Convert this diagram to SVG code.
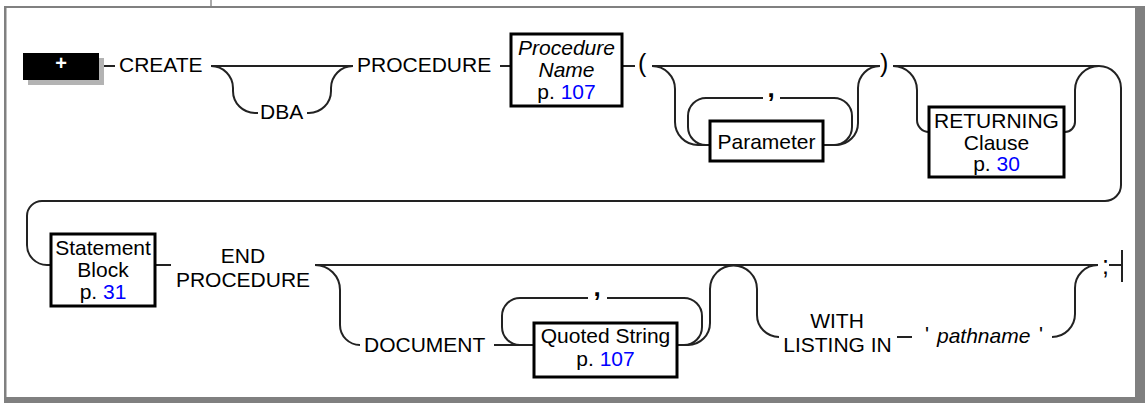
<svg xmlns="http://www.w3.org/2000/svg" width="1147" height="403" viewBox="0 0 1147 403">
<style>
text{font-family:"Liberation Sans",Arial,sans-serif;font-size:21px;fill:#000}
.c{text-anchor:middle}
.i{font-style:italic}
.lnk{fill:#0000ff}
.box{fill:#fff;stroke:#000;stroke-width:3}
.ln{fill:none;stroke:#222;stroke-width:2}
.frame{fill:#808080}
.big{font-size:25px}
.cm{font-size:26px;font-weight:bold}
</style>
<rect width="1147" height="403" fill="#fff"/>
<g id="frame">
<rect class="frame" x="4" y="6" width="1141" height="2"/>
<rect class="frame" x="4" y="6" width="2.5" height="397"/>
<rect class="frame" x="1135" y="6" width="10" height="397"/>
<rect class="frame" x="4" y="397" width="1141" height="6"/>
<path d="M211,0 V6" stroke="#555" stroke-width="1"/>
</g>
<g id="connectors" class="ln">
<path d="M104,66 H115"/>
<path d="M211,66 H353"/>
<path d="M211,66 A22,22 0 0 1 233,88 V91 A22,22 0 0 0 255,113 H258"/>
<path d="M307,113 H309 A22,22 0 0 0 331,91 V88 A22,22 0 0 1 353,66"/>
<path d="M500,66 H511"/>
<path d="M623,66 H635"/>
<path d="M652,66 H880"/>
<path d="M652,66 A23,23 0 0 1 675,89 V122 A23,23 0 0 0 698,145 H710"/>
<path d="M710,145 H706 A18,18 0 0 1 688,127 V116 A18,18 0 0 1 706,98 H763"/>
<path d="M780,98 H834 A18,18 0 0 1 852,116 V127 A18,18 0 0 1 834,145 H823"/>
<path d="M823,145 H836 A22,22 0 0 0 858,123 V88 A22,22 0 0 1 880,66"/>
<path d="M893,66 H1099"/>
<path d="M893,66 A24,24 0 0 1 917,90 V120 A12,12 0 0 0 929,132"/>
<path d="M1065,132 A10,10 0 0 0 1075,122 V90 A24,24 0 0 1 1099,66"/>
<path d="M1099,66 A22,22 0 0 1 1121,88 V185 A16,16 0 0 1 1105,201 H42 A15,15 0 0 0 27,216 V245 A20,20 0 0 0 47,265 H51"/>
<path d="M156,265 H171"/>
<path d="M315,265 H1098"/>
<path d="M315,265 A25,25 0 0 1 340,290 V325 A20,20 0 0 0 360,345"/>
<path d="M494,345 H534"/>
<path d="M534,345 H520 A18,18 0 0 1 502,327 V316 A18,18 0 0 1 520,298 H588"/>
<path d="M607,298 H684 A18,18 0 0 1 702,316 V327 A18,18 0 0 1 684,345 H678"/>
<path d="M678,345 H688 A22,22 0 0 0 710,323 V289 A23.5,23.5 0 0 1 757,289 V315 A22,22 0 0 0 779,337"/>
<path d="M897,337 H912"/>
<path d="M1052,337 A23,23 0 0 0 1075,314 V288 A23,23 0 0 1 1098,265"/>
<path d="M1109,265 H1122 M1122,250 V282"/>
</g>
<g id="start">
<rect x="28" y="58" width="76" height="27" fill="#b3b3b3"/>
<rect x="23" y="53" width="76" height="27" fill="#000"/>
<text x="61" y="70" class="c" style="fill:#fff;font-weight:bold;font-size:20px">+</text>
</g>
<g id="create"><text x="119" y="72">CREATE</text></g>
<g id="dba"><text x="260" y="119">DBA</text></g>
<g id="procedure"><text x="357" y="72">PROCEDURE</text></g>
<g id="procname">
<rect class="box" x="511" y="34" width="111" height="72"/>
<text class="c i" x="566.5" y="55">Procedure</text>
<text class="c i" x="566.5" y="77">Name</text>
<text class="c" x="566.5" y="99">p. <tspan class="lnk">107</tspan></text>
</g>
<g id="lparen"><text class="big" x="638" y="72">(</text></g>
<g id="comma1"><text class="c cm" x="771" y="97">,</text></g>
<g id="parameter">
<rect class="box" x="710" y="121" width="113" height="40"/>
<text class="c" x="766.5" y="149">Parameter</text>
</g>
<g id="rparen"><text class="big" x="880" y="72">)</text></g>
<g id="returning">
<rect class="box" x="929" y="107" width="135" height="70"/>
<text class="c" x="996.5" y="128">RETURNING</text>
<text class="c" x="996.5" y="150">Clause</text>
<text class="c" x="996.5" y="171">p. <tspan class="lnk">30</tspan></text>
</g>
<g id="stmtblock">
<rect class="box" x="51" y="234" width="104" height="72"/>
<text class="c" x="103" y="255">Statement</text>
<text class="c" x="103" y="277">Block</text>
<text class="c" x="103" y="299">p. <tspan class="lnk">31</tspan></text>
</g>
<g id="endproc">
<text class="c" x="243" y="263">END</text>
<text class="c" x="243" y="287">PROCEDURE</text>
</g>
<g id="document"><text x="364" y="352">DOCUMENT</text></g>
<g id="comma2"><text class="c cm" x="597" y="296">,</text></g>
<g id="quotedstring">
<rect class="box" x="534" y="323" width="143" height="54"/>
<text class="c" x="605.5" y="343">Quoted String</text>
<text class="c" x="605.5" y="366">p. <tspan class="lnk">107</tspan></text>
</g>
<g id="withlisting">
<text class="c" x="837" y="328">WITH</text>
<text class="c" x="837.5" y="352">LISTING IN</text>
</g>
<g id="pathname">
<text class="c" x="927" y="341">'</text>
<text class="i" x="937" y="343">pathname</text>
<text class="c" x="1041" y="341">'</text>
</g>
<g id="semicolon"><text class="big" x="1102" y="274">;</text></g>
</svg>
